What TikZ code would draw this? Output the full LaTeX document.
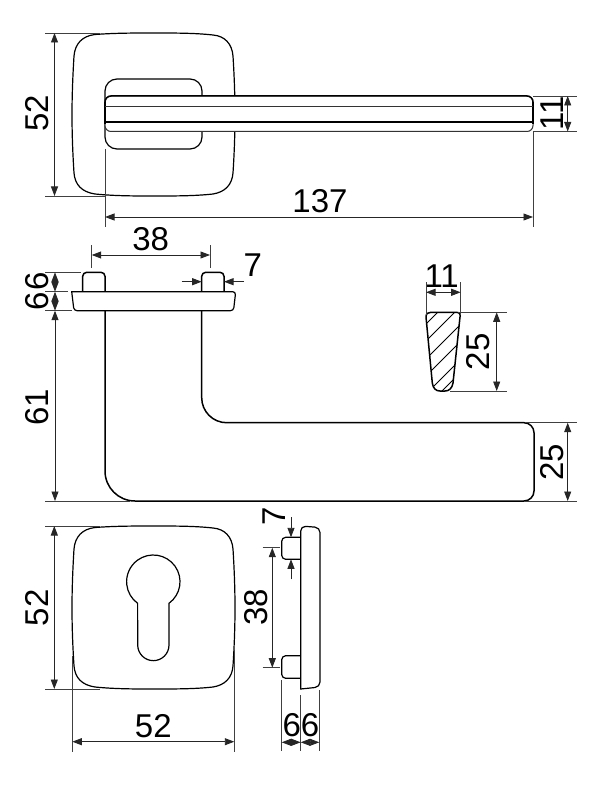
\documentclass[tikz,border=0pt]{standalone}
\usepackage{fontspec}
\setmainfont{Liberation Sans}
\usetikzlibrary{arrows.meta}
\definecolor{dimgray}{gray}{0.25}

\newcommand{\roseoutline}{(95,-34.5) .. controls (115,-33) and (135,-33) .. (153.5,-33) .. controls (175,-33) and (195,-33) .. (213,-35) .. controls (225,-36) and (232,-44) .. (233,-56) .. controls (234.5,-80) and (235,-100) .. (235,-115) .. controls (235,-130) and (234.5,-150) .. (233,-173) .. controls (232,-185) and (225,-192) .. (213,-194) .. controls (195,-196) and (175,-196) .. (153.5,-196) .. controls (135,-196) and (115,-196) .. (95,-194) .. controls (82,-192) and (75,-185) .. (74,-173) .. controls (72.5,-150) and (72,-130) .. (72,-115) .. controls (72,-100) and (72.5,-80) .. (74,-56) .. controls (75,-44) and (82,-36) .. (95,-34.5) -- cycle}
\newcommand{\crosssection}{(426,-317) .. controls (426,-313.5) and (428,-312.3) .. (431,-312.3) -- (456,-312.3) .. controls (459.5,-312.3) and (460.5,-314) .. (460,-317) -- (453,-383) .. controls (452,-388.5) and (449,-391) .. (445,-391) -- (440,-391) .. controls (436,-391) and (433,-388.5) .. (432.3,-383) -- cycle}

\begin{document}
\begin{tikzpicture}[
        x=1pt, y=1pt,
        >={Stealth[length=9.5pt,width=7pt,inset=0pt]},
        outline/.style={draw=black, line width=1.5pt},
        lightoutline/.style={draw=black, line width=1.2pt},
        thinoutline/.style={draw=black!80, line width=1pt},
        extline/.style={draw=dimgray, line width=0.9pt},
        dimline/.style={draw=black!85, line width=0.9pt, <->},
        dimarrow/.style={draw=black!85, line width=0.9pt, ->},
        dimtext/.style={inner sep=0pt, font=\fontsize{33}{33}\selectfont},
        dimtextup/.style={dimtext, rotate=90}
        ]
        \useasboundingbox (0,-786) rectangle (602,0);

        % top view
        \draw[lightoutline] \roseoutline;
        \draw[lightoutline, rounded corners=12pt] (105,-79) rectangle (202,-149);
        \draw[thinoutline, fill=white, rounded corners=6pt] (105,-96) rectangle (533,-131.5);
        \draw[outline, rounded corners=6pt] (105,-102) -- (105,-96) -- (533,-96) -- (533,-102);
        \draw[outline] (105,-102) -- (105,-124);
        \draw[outline] (533,-102) -- (533,-124);
        \draw[thinoutline] (105,-106.5) -- (533,-106.5);
        \draw[outline] (105,-122) -- (533,-122);

        \draw[extline] (45,-33) -- (100,-33);
        \draw[extline] (45,-196) -- (105,-196);
        \draw[dimline] (54.5,-33) -- (54.5,-196);
        \node[dimtextup] (topheight) at (37.5,-113) {52};

        \draw[extline] (105,-149) -- (105,-227);
        \draw[extline] (533,-131.5) -- (533,-227);
        \draw[dimline] (105,-217) -- (533,-217);
        \node[dimtext] (toplength) at (320,-201) {137};

        \draw[extline] (533,-96) -- (577,-96);
        \draw[extline] (533,-131.5) -- (577,-131.5);
        \draw[dimline] (567.7,-96) -- (567.7,-131.5);
        \node[dimtextup] (topwidth) at (552,-113.5) {11};

        % front view
        \draw[outline] (105,-310.7) [rounded corners=30pt] -- (105,-501) [rounded corners=10pt] -- (534,-501) -- (534,-422.7) [rounded corners=25pt] -- (201.7,-422.7) [rounded corners=0pt] -- (201.7,-310.7);
        \draw[lightoutline, rounded corners=3pt] (71.7,-291.7) -- (74,-310.7) -- (233.5,-310.7) -- (235.7,-291.7) [sharp corners] -- cycle;
        \draw[outline, rounded corners=4pt] (82.7,-291.7) -- (82.7,-272.3) -- (105,-272.3) -- (105,-291.7);
        \draw[outline, rounded corners=4pt] (201.7,-291.7) -- (201.7,-272.3) -- (224,-272.3) -- (224,-291.7);

        \draw[extline] (91.7,-245) -- (91.7,-268);
        \draw[extline] (210,-245) -- (210,-268);
        \draw[dimline] (91.7,-255) -- (210,-255);
        \node[dimtext] (pindistance) at (150.7,-239) {38};

        \draw[dimarrow] (181.7,-281.7) -- (201.7,-281.7);
        \draw[dimarrow] (244,-281.7) -- (224,-281.7);
        \node[dimtext] (pinwidth) at (252.7,-265) {7};

        \draw[extline] (45,-272.3) -- (81,-272.3);
        \draw[extline] (45,-291.7) -- (68,-291.7);
        \draw[extline] (45,-310.7) -- (72,-310.7);
        \draw[extline] (45,-501) -- (130,-501);
        \draw[dimline] (55,-272.3) -- (55,-291.7);
        \draw[dimline] (55,-291.7) -- (55,-310.7);
        \draw[dimline] (55,-310.7) -- (55,-501);
        \node[dimtextup] (pinheight) at (37.5,-281.5) {6};
        \node[dimtextup] (plateheight) at (37.5,-301) {6};
        \node[dimtextup] (handleheight) at (37.5,-407) {61};

        \draw[extline] (525,-422.7) -- (577,-422.7);
        \draw[extline] (525,-501) -- (577,-501);
        \draw[dimline] (567.7,-422.7) -- (567.7,-501);
        \node[dimtextup] (gripheight) at (551.7,-462.3) {25};

        % cross section
        \begin{scope}
            \clip \crosssection;
            \foreach \c in {750,767,785,802,820,833}
                \draw[draw=black, line width=0.9pt] (\c-420,-420) -- (\c-300,-300);
        \end{scope}
        \draw[outline] \crosssection;

        \draw[extline] (426,-282) -- (426,-315);
        \draw[extline] (460.7,-282) -- (460.7,-315);
        \draw[dimline] (426,-292.3) -- (460.7,-292.3);
        \node[dimtext] (sectionwidth) at (441.7,-276) {11};

        \draw[extline] (458,-312.3) -- (506.7,-312.3);
        \draw[extline] (450,-391) -- (506.7,-391);
        \draw[dimline] (496.7,-312.3) -- (496.7,-391);
        \node[dimtextup] (sectionheight) at (478,-351.7) {25};

        % bottom view
        \begin{scope}[yshift=-493pt]
            \draw[lightoutline] \roseoutline;
        \end{scope}
        \draw[lightoutline] (169,-603.3) arc (-54:234:26.7) -- (137.7,-645) arc (180:360:15.65) -- cycle;

        \draw[extline] (45,-526) -- (100,-526);
        \draw[extline] (45,-689) -- (100,-689);
        \draw[dimline] (54.3,-526) -- (54.3,-689);
        \node[dimtextup] (roseheight) at (37.5,-607.7) {52};

        \draw[extline] (72.3,-656) -- (72.3,-751.7);
        \draw[extline] (234.3,-650) -- (234.3,-751.7);
        \draw[dimline] (72.3,-741.7) -- (234.3,-741.7);
        \node[dimtext] (rosewidth) at (153.3,-726) {52};

        % side view
        \draw[lightoutline, rounded corners=5pt] (300.7,-526) [sharp corners] -- (300.7,-689) [rounded corners=5pt] -- (320,-687) -- (320,-527.5) -- cycle;
        \draw[lightoutline, rounded corners=4pt] (300.7,-537.3) -- (281.7,-537.3) -- (281.7,-559.3) -- (300.7,-559.3);
        \draw[lightoutline, rounded corners=4pt] (300.7,-655.7) -- (281.7,-655.7) -- (281.7,-678.3) -- (300.7,-678.3);

        \draw[extline] (262.7,-547.7) -- (280,-547.7);
        \draw[extline] (262.7,-667.7) -- (280,-667.7);
        \draw[dimline] (272.3,-547.7) -- (272.3,-667.7);
        \node[dimtextup] (sidedistance) at (256,-607.3) {38};

        \draw[dimarrow] (291,-517.3) -- (291,-537.3);
        \draw[dimarrow] (291,-579.3) -- (291,-559.3);
        \node[dimtextup] (sidepin) at (274.3,-516) {7};

        \draw[extline] (281.7,-680) -- (281.7,-750.7);
        \draw[extline] (300.7,-695) -- (300.7,-750.7);
        \draw[extline] (319.3,-690) -- (319.3,-750.7);
        \draw[dimline] (281.7,-742.3) -- (300.7,-742.3);
        \draw[dimline] (300.7,-742.3) -- (319.3,-742.3);
        \node[dimtext] (sidepindepth) at (291.7,-725) {6};
        \node[dimtext] (sideplatedepth) at (310,-725) {6};
    \end{tikzpicture}
\end{document}
